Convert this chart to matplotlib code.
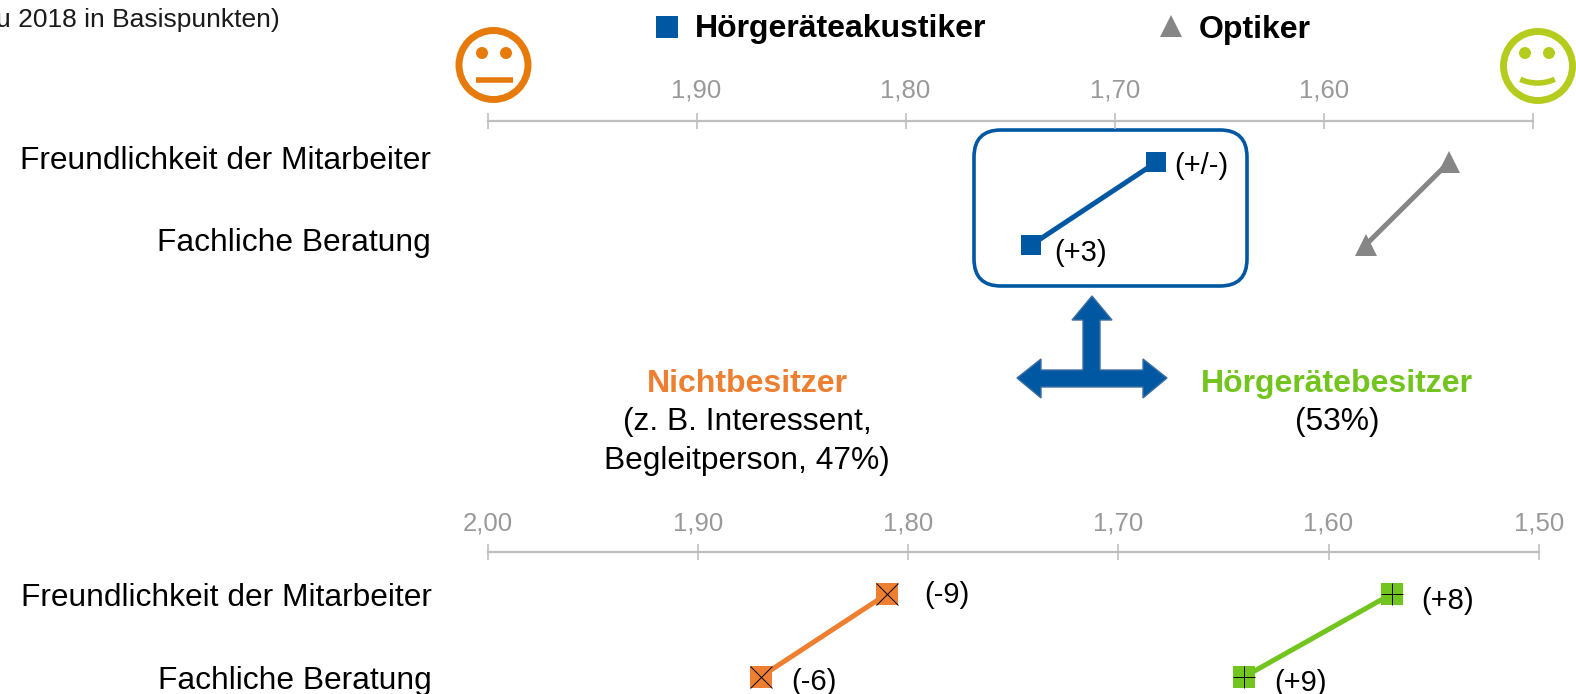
import matplotlib
matplotlib.use("Agg")
import matplotlib.pyplot as plt
from matplotlib.patches import Circle, FancyBboxPatch, Polygon, Arc

plt.rcParams["font.family"] = ["Liberation Sans", "DejaVu Sans"]

W, H = 1576, 694
BLUE = "#0058A3"
GREY = "#868686"
ORANGE = "#EE7F30"
GREEN = "#72C41E"
AXIS = "#BFBFBF"

rows = ["Freundlichkeit der Mitarbeiter", "Fachliche Beratung"]
ticks = [2.0, 1.9, 1.8, 1.7, 1.6, 1.5]
top_ticklabels = ["", "1,90", "1,80", "1,70", "1,60", ""]
bottom_ticklabels = ["2,00", "1,90", "1,80", "1,70", "1,60", "1,50"]

akustiker = [1.68, 1.74]
akustiker_delta = ["(+/-)", "(+3)"]
optiker = [1.54, 1.58]
nichtbesitzer = [1.81, 1.87]
nichtbesitzer_delta = ["(-9)", "(-6)"]
besitzer = [1.57, 1.64]
besitzer_delta = ["(+8)", "(+9)"]


def px_axes(fig, left, right, top, bottom):
    return fig.add_axes([left / W, 1 - bottom / H, (right - left) / W, (bottom - top) / H])


def setup_axis(ax, ticklabels, ylim, row_pos, label_pad, tick_pad):
    ax.set_xlim(2.0, 1.5)
    ax.set_ylim(*ylim)
    ax.patch.set_alpha(0)
    for s in ["left", "right", "bottom"]:
        ax.spines[s].set_visible(False)
    ax.spines["top"].set_color(AXIS)
    ax.spines["top"].set_linewidth(1.6)
    ax.xaxis.tick_top()
    ax.set_xticks(ticks)
    ax.set_xticklabels(ticklabels)
    ax.tick_params(axis="x", direction="inout", length=11, width=1.2, color=AXIS,
                   labelcolor="#999999", labelsize=18.5, pad=tick_pad)
    ax.set_yticks(row_pos)
    ax.set_yticklabels(rows)
    ax.tick_params(axis="y", length=0, labelsize=22.9, pad=label_pad, labelcolor="#000000")


def draw_series(ax, values, color, marker="s", size=14, inner=None, deltas=None, offsets=None):
    ax.plot(values, [0, 1], color=color, lw=3.6, clip_on=False, zorder=3)
    ax.plot(values, [0, 1], ls="none", marker=marker, ms=size, color=color, mew=0,
            clip_on=False, zorder=4)
    if inner:
        ax.plot(values, [0, 1], ls="none", marker=inner, ms=size, color="black", mew=0.7,
                clip_on=False, zorder=5)
    if deltas:
        for i in range(2):
            ax.annotate(deltas[i], (values[i], i), xytext=offsets[i], textcoords="offset points",
                        ha="left", va="center", fontsize=21, color="black", annotation_clip=False)


fig = plt.figure(figsize=(W / 100, H / 100), dpi=100)

# overlay in pixel coordinates for the decoration
deco = fig.add_axes([0, 0, 1, 1])
deco.set_xlim(0, W)
deco.set_ylim(H, 0)
deco.axis("off")

deco.text(280, 20, "u 2018 in Basispunkten)", ha="right", va="center", fontsize=19, color="#1a1a1a")

# legend
deco.plot([667], [27], marker="s", ms=16, color=BLUE, mew=0)
deco.text(695, 29, "Hörgeräteakustiker", fontsize=23, fontweight="bold", va="center")
deco.plot([1171], [26], marker="^", ms=16, color=GREY, mew=0)
deco.text(1199, 30, "Optiker", fontsize=23, fontweight="bold", va="center")

# smileys
SAD = "#E67A0A"
HAPPY = "#B5CC1E"
deco.add_patch(Circle((493.5, 65), 34.5, fc="white", ec=SAD, lw=5))
deco.add_patch(Circle((482, 53), 6, fc=SAD, ec="none"))
deco.add_patch(Circle((506, 53), 6, fc=SAD, ec="none"))
deco.plot([476, 513], [80, 80], color=SAD, lw=4, solid_capstyle="butt")
deco.add_patch(Circle((1538, 66), 34.5, fc="white", ec=HAPPY, lw=5))
deco.add_patch(Circle((1525, 53), 6, fc=HAPPY, ec="none"))
deco.add_patch(Circle((1549, 53), 6, fc=HAPPY, ec="none"))
deco.add_patch(Arc((1537.5, 62), 60, 42, theta1=45, theta2=135, ec=HAPPY, lw=4))

# rounded box and arrow
deco.add_patch(FancyBboxPatch((974, 130), 273, 156, boxstyle="round,pad=0,rounding_size=27",
                              fc="white", ec=BLUE, lw=2.6))
arrow = [(1092, 296), (1112, 320), (1100, 320), (1100, 370), (1143, 370), (1143, 359), (1167, 378),
         (1143, 398), (1143, 387), (1041, 387), (1041, 398), (1017, 378), (1041, 359), (1041, 370),
         (1083, 370), (1083, 320), (1072, 320)]
deco.add_patch(Polygon(arrow, closed=True, fc=BLUE, ec="#3F6F9F", lw=1))

# middle texts
deco.text(747, 384, "Nichtbesitzer", color=ORANGE, fontsize=23, fontweight="bold", ha="center", va="center")
deco.text(747, 422, "(z. B. Interessent,", fontsize=22.9, ha="center", va="center")
deco.text(747, 461, "Begleitperson, 47%)", fontsize=22.9, ha="center", va="center")
deco.text(1337, 384, "Hörgerätebesitzer", color=GREEN, fontsize=23, fontweight="bold", ha="center", va="center")
deco.text(1337, 422, "(53%)", fontsize=22.9, ha="center", va="center")

# top chart
ax_top = px_axes(fig, 487.5, 1532.8, 120.6, 286.6)
setup_axis(ax_top, top_ticklabels, (1.5, -0.5), [-0.06, 0.93], 41, 7.5)
draw_series(ax_top, akustiker, BLUE, size=13.7, deltas=akustiker_delta, offsets=[(12.5, -3), (17, -5.5)])
draw_series(ax_top, optiker, GREY, marker="^", size=16.5)

# bottom chart
ax_bottom = px_axes(fig, 487.5, 1538.8, 551.8, 694)
setup_axis(ax_bottom, bottom_ticklabels, (1.21, -0.51), [0.01, 1.01], 40, 6)
draw_series(ax_bottom, nichtbesitzer, ORANGE, size=15.8, inner="x",
            deltas=nichtbesitzer_delta, offsets=[(26.5, -1), (22, -4)])
draw_series(ax_bottom, besitzer, GREEN, size=15.8, inner="+",
            deltas=besitzer_delta, offsets=[(21, -5), (21.5, -4.5)])

fig.savefig("out.png", dpi=100)
